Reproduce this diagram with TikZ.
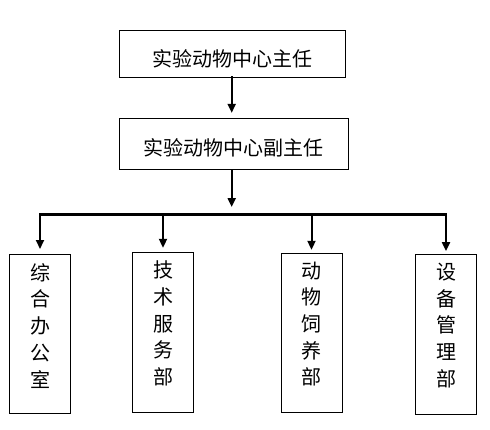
\documentclass[tikz,border=0pt]{standalone}
\usepackage{fontspec}
\newfontfamily\cjk{Noto Sans CJK SC}
\usetikzlibrary{arrows.meta}

\begin{document}
\begin{tikzpicture}[x=1pt,y=-1pt,>={Triangle[length=9pt,width=8pt]},line cap=rect,
  box/.style={draw,line width=0.9pt,inner sep=0pt},
  unit/.style={box,minimum width=61pt,minimum height=159.5pt},
  title/.style={font=\cjk\fontsize{20}{24}\selectfont,inner sep=0pt},
  vtext/.style={font=\cjk\fontsize{20}{26.7}\selectfont,align=center,inner sep=0pt},
  link/.style={line width=2pt}]
\useasboundingbox (0,0) rectangle (490,429);
% leadership
\node[box,minimum width=226.7pt,minimum height=47pt] (zr) at (232.3,53.5) {};
\node[title] (zrt) at ([yshift=-5pt]zr.center) {实验动物中心主任};
\node[box,minimum width=228.7pt,minimum height=51pt] (fzr) at (233.7,143.8) {};
\node[title] (fzrt) at ([yshift=-4pt]fzr.center) {实验动物中心副主任};
% departments
\node[unit] (zh) at (40,333.7) {};
\node[unit] (js) at (163,332.5) {};
\node[unit] (dw) at (311.5,333) {};
\node[unit] (sb) at (446,334.3) {};
\node[vtext] (zht) at ([yshift=8pt]zh.center) {综\\合\\办\\公\\室};
\node[vtext] (jst) at ([yshift=9pt]js.center) {技\\术\\服\\务\\部};
\node[vtext] (dwt) at ([yshift=9pt]dw.center) {动\\物\\饲\\养\\部};
\node[vtext] (sbt) at ([yshift=9pt]sb.center) {设\\备\\管\\理\\部};
% bus
\coordinate (bm) at (231.7,214.5);
\coordinate (bl) at (zh.north |- bm);
\coordinate (br) at (sb.north |- bm);
\draw[link,line width=2.3pt] (bl) -- (br);
\draw[link,->] (zr.south -| bm) -- ([yshift=5pt]fzr.north -| bm);
\draw[link,->] (fzr.south -| bm) -- ([yshift=7.5pt]bm);
\draw[link,->] (bl) -- ([yshift=4.5pt]zh.north);
\draw[link,->] (js.north |- bm) -- ([yshift=4.5pt]js.north);
\draw[link,->] (dw.north |- bm) -- ([yshift=3pt]dw.north);
\draw[link,->] (br) -- ([yshift=3pt]sb.north);
\end{tikzpicture}
\end{document}
